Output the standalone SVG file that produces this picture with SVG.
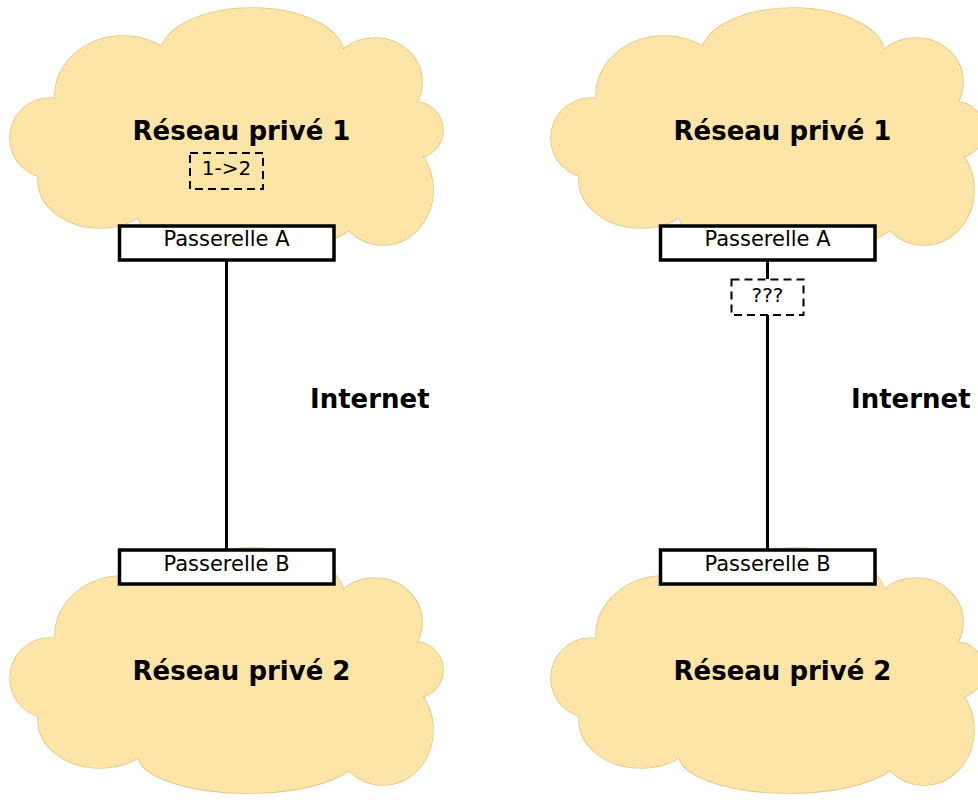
<svg xmlns="http://www.w3.org/2000/svg" xmlns:xlink="http://www.w3.org/1999/xlink" width="978" height="800" viewBox="0 0 978 800">
  <style>
    .cloud-edge { fill: #fde5a8; stroke: #e3ca8a; stroke-width: 1.6; }
    .cloud-fill { fill: #fde5a8; stroke: none; }
    .net-label { font-family: "DejaVu Sans", "Liberation Sans", sans-serif; font-weight: bold; font-size: 26px; fill: #000; }
    .gw-box { fill: #fff; stroke: #000; stroke-width: 3.5; }
    .gw-label { font-family: "DejaVu Sans", "Liberation Sans", sans-serif; font-size: 21px; fill: #000; text-anchor: middle; }
    .pk-label { font-family: "DejaVu Sans", "Liberation Sans", sans-serif; font-size: 20px; fill: #000; text-anchor: middle; }
    .packet { fill: none; stroke: #000; stroke-width: 2; stroke-dasharray: 8 5; }
    .link { stroke: #000; stroke-width: 3; fill: none; }
  </style>
  <defs>
    <!-- cloud built from overlapping bumps; drawn twice so only the outer rim keeps a stroke -->
    <g id="cloudShapes">
      <ellipse cx="230" cy="140" rx="170" ry="85"/>
      <ellipse cx="123" cy="96" rx="68" ry="60"/>
      <ellipse cx="252" cy="55" rx="92" ry="47"/>
      <ellipse cx="375" cy="82" rx="47" ry="44"/>
      <circle cx="415" cy="130" r="28"/>
      <ellipse cx="383" cy="190" rx="50" ry="55"/>
      <ellipse cx="248" cy="215" rx="110" ry="38"/>
      <ellipse cx="100" cy="180" rx="62" ry="48"/>
      <circle cx="50" cy="138" r="40"/>
    </g>
    <g id="cloud">
      <use xlink:href="#cloudShapes" class="cloud-edge"/>
      <use xlink:href="#cloudShapes" class="cloud-fill"/>
    </g>
  </defs>

  <rect width="978" height="800" fill="#fff"/>

  <!-- left scenario -->
  <g id="reseau1-gauche">
    <use xlink:href="#cloud"/>
    <text class="net-label" x="241.5" y="140" text-anchor="middle">Réseau privé 1</text>
  </g>
  <g id="reseau2-gauche">
    <use xlink:href="#cloud" transform="translate(0,540)"/>
    <text class="net-label" x="241.5" y="680" text-anchor="middle">Réseau privé 2</text>
  </g>
  <g id="internet-gauche">
    <text class="net-label" x="310" y="408">Internet</text>
  </g>

  <!-- right scenario -->
  <g id="reseau1-droite">
    <use xlink:href="#cloud" transform="translate(541,0)"/>
    <text class="net-label" x="782.5" y="140" text-anchor="middle">Réseau privé 1</text>
  </g>
  <g id="reseau2-droite">
    <use xlink:href="#cloud" transform="translate(541,540)"/>
    <text class="net-label" x="782.5" y="680" text-anchor="middle">Réseau privé 2</text>
  </g>
  <g id="internet-droite">
    <text class="net-label" x="851" y="408">Internet</text>
  </g>

  <!-- links between gateways -->
  <g id="connectors">
    <line class="link" x1="226.5" y1="261" x2="226.5" y2="549"/>
    <line class="link" x1="767.5" y1="261" x2="767.5" y2="279"/>
    <line class="link" x1="767.5" y1="315" x2="767.5" y2="549"/>
  </g>

  <!-- gateways -->
  <g id="passerelle-a-gauche">
    <rect class="gw-box" x="119.5" y="226" width="214.5" height="34"/>
    <text class="gw-label" x="226.5" y="246">Passerelle A</text>
  </g>
  <g id="passerelle-b-gauche">
    <rect class="gw-box" x="119.5" y="550" width="214.5" height="34"/>
    <text class="gw-label" x="226.5" y="571">Passerelle B</text>
  </g>
  <g id="passerelle-a-droite">
    <rect class="gw-box" x="660.5" y="226" width="214.5" height="34"/>
    <text class="gw-label" x="767.5" y="246">Passerelle A</text>
  </g>
  <g id="passerelle-b-droite">
    <rect class="gw-box" x="660.5" y="550" width="214.5" height="34"/>
    <text class="gw-label" x="767.5" y="571">Passerelle B</text>
  </g>

  <!-- packets -->
  <g id="paquet-1-2">
    <rect class="packet" x="190" y="153" width="73" height="36"/>
    <text class="pk-label" x="226.5" y="174.5">1-&gt;2</text>
  </g>
  <g id="paquet-inconnu">
    <rect class="packet" x="731.5" y="279.5" width="72" height="35.5"/>
    <text class="pk-label" x="767.5" y="302">???</text>
  </g>
</svg>
